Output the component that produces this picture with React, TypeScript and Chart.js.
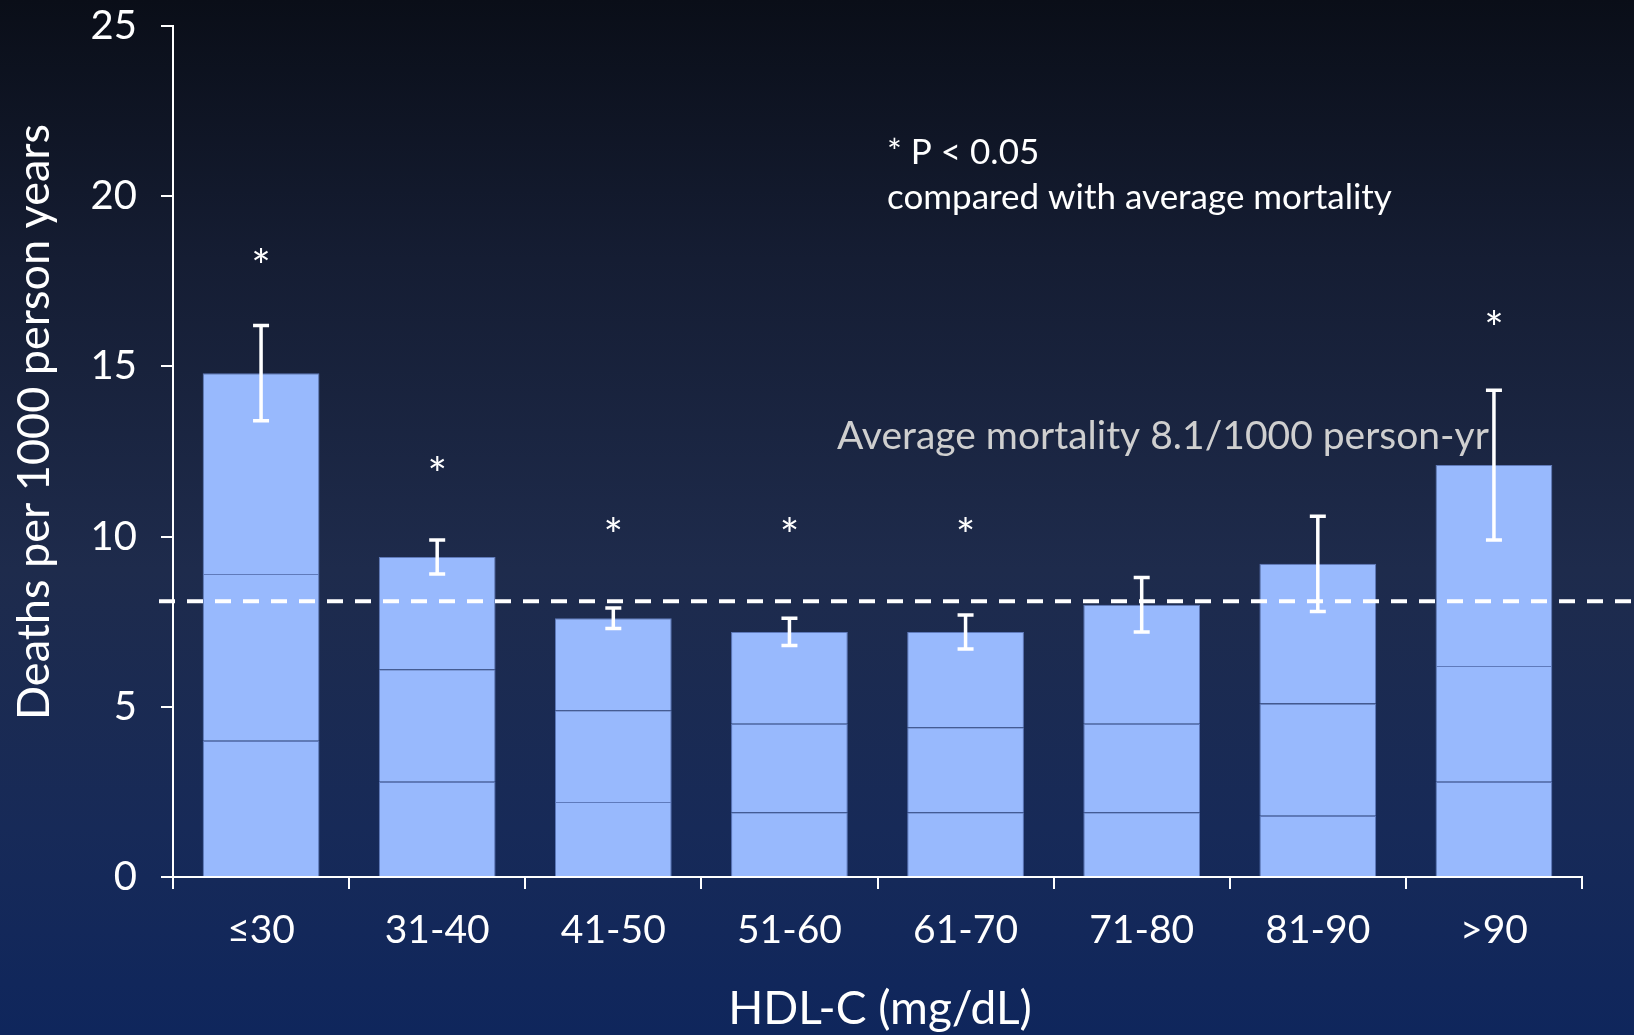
import { useEffect, useRef } from "react";
import { Chart, registerables } from "chart.js";

Chart.register(...registerables);

// HDL-C bands and all-cause mortality per 1000 person-years
const categories = ["≤30", "31-40", "41-50", "51-60", "61-70", "71-80", "81-90", ">90"];
const deathRate = [14.8, 9.4, 7.6, 7.2, 7.2, 8.0, 9.2, 12.1];
const errorHalfWidth = [1.4, 0.5, 0.3, 0.4, 0.5, 0.8, 1.4, 2.2];
// inner divisions of each column (cumulative levels)
const lowerLevel = [4.0, 2.8, 2.2, 1.9, 1.9, 1.9, 1.8, 2.8];
const middleLevel = [8.9, 6.1, 4.9, 4.5, 4.4, 4.5, 5.1, 6.2];
// significance markers (null = not significant)
const asteriskLevel: (number | null)[] = [18.2, 12.1, 10.3, 10.3, 10.3, null, null, 16.4];
const averageMortality = 8.1;
const yTickValues = [0, 5, 10, 15, 20, 25];

const W = 1634;
const H = 1035;
const FONT = "Lato, 'Open Sans', sans-serif";
const BAR_FILL = "#98b9fd";
const BAR_EDGE = "rgba(112, 142, 214, 0.8)";

const segment1 = lowerLevel;
const segment2 = middleLevel.map((m, i) => m - lowerLevel[i]);
const segment3 = deathRate.map((t, i) => t - middleLevel[i]);

const overlayPlugin = {
  id: "overlay",
  afterDatasetsDraw(chart: any) {
    const { ctx, chartArea } = chart;
    const x = chart.scales.x;
    const y = chart.scales.y;
    ctx.save();

    // reference line for average mortality
    const ay = y.getPixelForValue(averageMortality);
    ctx.strokeStyle = "#ffffff";
    ctx.lineWidth = 4;
    ctx.setLineDash([16, 12]);
    ctx.beginPath();
    ctx.moveTo(chartArea.left - 14, ay);
    ctx.lineTo(chart.width, ay);
    ctx.stroke();
    ctx.setLineDash([]);

    // error bars
    ctx.lineWidth = 3.5;
    ctx.lineCap = "butt";
    deathRate.forEach((v, i) => {
      const cx = x.getPixelForValue(i);
      const top = y.getPixelForValue(v + errorHalfWidth[i]);
      const bot = y.getPixelForValue(v - errorHalfWidth[i]);
      ctx.beginPath();
      ctx.moveTo(cx, top);
      ctx.lineTo(cx, bot);
      ctx.moveTo(cx - 8, top);
      ctx.lineTo(cx + 8, top);
      ctx.moveTo(cx - 8, bot);
      ctx.lineTo(cx + 8, bot);
      ctx.stroke();
    });

    // significance asterisks
    const starSize = 46;
    ctx.fillStyle = "#ffffff";
    ctx.font = `${starSize}px ${FONT}`;
    ctx.textAlign = "center";
    ctx.textBaseline = "alphabetic";
    asteriskLevel.forEach((lvl, i) => {
      if (lvl === null) return;
      const cx = x.getPixelForValue(i);
      const cy = y.getPixelForValue(lvl);
      ctx.fillText("*", cx, cy + starSize * 0.56);
    });

    // annotations
    ctx.textAlign = "left";
    ctx.textBaseline = "middle";
    ctx.font = `35px ${FONT}`;
    ctx.fillText("* P < 0.05", 887, 153);
    ctx.fillText("compared with average mortality", 887, 198);

    ctx.fillStyle = "#cfcfcf";
    ctx.font = `39px ${FONT}`;
    ctx.fillText("Average mortality 8.1/1000 person-yr", 837, 436);

    // axis titles
    ctx.fillStyle = "#ffffff";
    ctx.font = `46px ${FONT}`;
    ctx.textAlign = "center";
    ctx.textBaseline = "alphabetic";
    ctx.fillText("HDL-C (mg/dL)", 880, 1024);

    ctx.save();
    ctx.translate(34, 422);
    ctx.rotate(-Math.PI / 2);
    ctx.textBaseline = "middle";
    ctx.font = `45px ${FONT}`;
    ctx.fillText("Deaths per 1000 person years", 0, 0);
    ctx.restore();

    ctx.restore();
  },
};

function MortalityChart() {
  const canvasRef = useRef<HTMLCanvasElement | null>(null);

  useEffect(() => {
    const canvas = canvasRef.current;
    if (!canvas) return;
    const makeSet = (data: number[]) => ({
      data,
      backgroundColor: BAR_FILL,
      borderColor: BAR_EDGE,
      borderWidth: 1,
      borderSkipped: "start" as const,
      barPercentage: 0.663,
      categoryPercentage: 1,
    });
    const chart = new Chart(canvas, {
      type: "bar",
      data: {
        labels: categories,
        datasets: [makeSet(segment1), makeSet(segment2), makeSet(segment3)],
      },
      options: {
        responsive: false,
        animation: false,
        devicePixelRatio: 1,
        layout: { padding: { top: 26, right: 52, left: 0, bottom: 0 } },
        plugins: {
          legend: { display: false },
          tooltip: { enabled: false },
        },
        scales: {
          x: {
            stacked: true,
            grid: {
              offset: true,
              drawOnChartArea: false,
              drawTicks: true,
              tickLength: 12,
              color: "#ffffff",
              lineWidth: 2,
            },
            border: { display: true, color: "#ffffff", width: 2 },
            ticks: {
              color: "#ffffff",
              font: { family: FONT, size: 39 },
              padding: 18,
              maxRotation: 0,
            },
            afterFit(scale: any) {
              scale.height = 158;
              scale.paddingLeft = 0;
              scale.paddingRight = 0;
            },
          },
          y: {
            stacked: true,
            min: 0,
            max: 25,
            afterBuildTicks(scale: any) {
              scale.ticks = yTickValues.map((v) => ({ value: v }));
            },
            grid: {
              drawOnChartArea: false,
              drawTicks: true,
              tickLength: 12,
              color: "#ffffff",
              lineWidth: 2,
            },
            border: { display: true, color: "#ffffff", width: 2 },
            ticks: {
              color: "#ffffff",
              font: { family: FONT, size: 40 },
              padding: 24,
            },
            afterFit(scale: any) {
              scale.width = 173;
              scale.paddingTop = 0;
              scale.paddingBottom = 0;
            },
          },
        },
      },
      plugins: [overlayPlugin],
    });
    return () => chart.destroy();
  }, []);

  return <canvas ref={canvasRef} width={W} height={H} style={{ display: "block" }} />;
}

export default function App() {
  return (
    <div
      style={{
        position: "fixed",
        left: 0,
        top: 0,
        width: W,
        height: H,
        background: "linear-gradient(to bottom, #0a0e18 0%, #151d33 25%, #1e2b4c 55%, #172a58 80%, #0f265c 100%)",
      }}
    >
      <MortalityChart />
    </div>
  );
}
